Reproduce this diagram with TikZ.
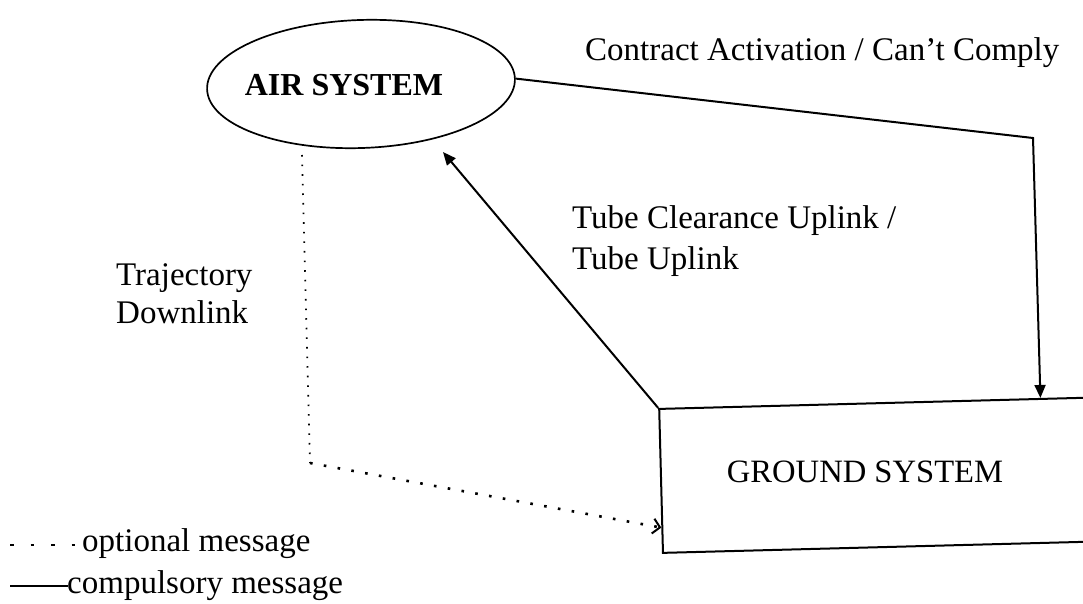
\documentclass[tikz,border=0pt]{standalone}
\usepackage{fontspec}
\setmainfont{Liberation Serif}
\usetikzlibrary{shapes.geometric,arrows.meta,calc}
\begin{document}
\begin{tikzpicture}[x=1pt,y=-1pt,
  conn/.style={line width=2pt,line join=miter},
  solidtip/.style={-{Triangle[length=13pt,width=11pt]}},
  dotline/.style={line width=2.6pt,dash pattern=on 2.6pt off 11.4pt},
  finedots/.style={line width=1.6pt,dash pattern=on 1.6pt off 8pt},
  lbl/.style={font=\fontsize{33}{41}\selectfont,inner sep=0pt,align=left},
  sysbox/.style={draw,line width=2pt,rectangle,inner sep=0pt,minimum width=450pt,minimum height=144pt,rotate=1.5},
  airshape/.style={draw,line width=1.7pt,ellipse,inner sep=0pt,minimum width=308pt,minimum height=128pt,rotate=2}]
\useasboundingbox (0,0) rectangle (1083,604);
\fill[white] (0,0) rectangle (1083,604);
% nodes
\node[airshape] (air) at (361,84) {};
\node[lbl,font=\fontsize{32}{38}\selectfont\bfseries,anchor=base] (airtext) at (344,96) {AIR SYSTEM};
\node[sysbox] (ground) at (886,475) {};
\node[lbl,font=\fontsize{32.6}{38}\selectfont,anchor=base] (groundtext) at (865,482) {GROUND SYSTEM};
% labels
\node[lbl,anchor=base west] (contract) at (585,61) {Contract Activation / Can't Comply};
\node[lbl,anchor=base west] (tube) at (572,269) {Tube Clearance Uplink /\\Tube Uplink};
\node[lbl,anchor=base west,font=\fontsize{33}{38}\selectfont] (traj) at (116,323) {Trajectory\\Downlink};
% connectors
\coordinate (c1) at (1033,138);
\draw[conn,solidtip] (air.east) -- (c1) -- ($(ground.north west)!0.846!(ground.north east)$);
\coordinate (t2) at (443,152);
\draw[conn,solidtip] (ground.north west) -- (t2);
\coordinate (d1) at (302,155);
\coordinate (d2) at (310,463);
\draw[finedots] (d1) -- (d2);
\draw[dotline,-{Straight Barb[length=7pt,width=15pt,line width=2pt]}] (d2) -- ($(ground.north west)!0.82!(ground.south west)$);
% legend
\coordinate (l1a) at (10,545);
\coordinate (l1b) at (78,545);
\draw[line width=2.6pt,dash pattern=on 3.5pt off 17pt] (l1a) -- (l1b);
\node[lbl,anchor=base west] (opt) at (82,551) {optional message};
\coordinate (l2a) at (10,586);
\coordinate (l2b) at (68,586);
\draw[conn] (l2a) -- (l2b);
\node[lbl,anchor=base west] (comp) at (67,593) {compulsory message};
\end{tikzpicture}
\end{document}
